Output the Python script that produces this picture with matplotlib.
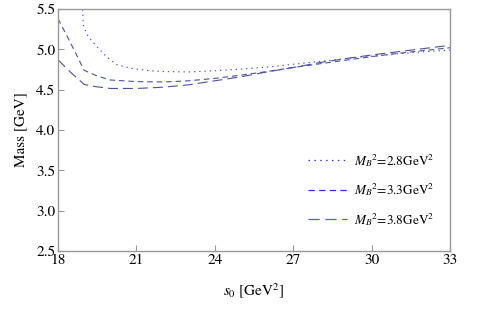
import matplotlib
matplotlib.use("Agg")
import matplotlib.pyplot as plt
from matplotlib.lines import Line2D

plt.rcParams['font.family'] = ['STIXGeneral', 'DejaVu Serif']
plt.rcParams['mathtext.fontset'] = 'stix'

# M_B^2 = 2.8 GeV^2 (dotted)
s0_a = [18.9, 18.97, 19.15, 19.5, 19.85, 20.25, 20.8, 21.5, 22, 23, 24, 25, 26, 27, 28, 29, 30, 31, 32, 33]
m_a = [5.75, 5.30, 5.16, 5.03, 4.91, 4.81, 4.765, 4.735, 4.725, 4.72, 4.735, 4.755, 4.78, 4.815, 4.85, 4.885, 4.915, 4.945, 4.97, 4.99]

# M_B^2 = 3.3 GeV^2 (dashed)
s0_b = [18, 18.4, 18.65, 19, 19.5, 20, 21, 22, 23, 24, 25, 26, 27, 28, 29, 30, 31, 32, 33]
m_b = [5.38, 5.13, 4.97, 4.74, 4.67, 4.62, 4.60, 4.595, 4.61, 4.64, 4.68, 4.725, 4.775, 4.82, 4.865, 4.91, 4.95, 4.985, 5.02]

# M_B^2 = 3.8 GeV^2 (long dashed)
s0_c = [18, 18.5, 19, 19.5, 20, 21, 22, 23, 24, 25, 26, 27, 28, 29, 30, 31, 32, 33]
m_c = [4.87, 4.71, 4.565, 4.535, 4.515, 4.515, 4.53, 4.56, 4.61, 4.66, 4.72, 4.775, 4.835, 4.885, 4.93, 4.97, 5.01, 5.05]

labels = [r'$M_B{}^2$=2.8GeV$^2$', r'$M_B{}^2$=3.3GeV$^2$', r'$M_B{}^2$=3.8GeV$^2$']

xticks = [18, 21, 24, 27, 30, 33]
yticks = [2.5, 3.0, 3.5, 4.0, 4.5, 5.0, 5.5]

curve_col = '#5050a8'
frame_col = '#999999'

fig = plt.figure(figsize=(5, 3.11), dpi=100)
ax = fig.add_axes([0.116, 0.193, 0.784, 0.778])

ax.plot(s0_a, m_a, color=curve_col, lw=0.8, linestyle=(0, (1.2, 3.5)))
ax.plot(s0_b, m_b, color=curve_col, lw=0.8, linestyle=(0, (5, 3.5)))
ax.plot(s0_c, m_c, color=curve_col, lw=0.8, linestyle=(0, (9, 4.5)))

ax.set_xlim(18, 33)
ax.set_ylim(2.5, 5.5)
ax.set_xticks(xticks)
ax.set_yticks(yticks)
ax.set_yticklabels(['%.1f' % v for v in yticks])
ax.tick_params(direction='in', length=4, width=0.8, color=frame_col, labelsize=11, pad=2)
for sp in ax.spines.values():
    sp.set_color(frame_col)
    sp.set_linewidth(1.0)

ax.set_xlabel(r'$s_0$ [GeV$^2$]', fontsize=11, labelpad=10)
ax.set_ylabel('Mass [GeV]', fontsize=11, labelpad=6)

handles = [
    Line2D([], [], color='#3535e0', lw=0.9, linestyle=(0, (1.2, 3.5))),
    Line2D([], [], color='#2a2aff', lw=0.9, linestyle=(0, (5, 3.5))),
    Line2D([], [], color='#5a5af0', lw=0.9, linestyle=(0, (9, 4.5))),
]
fig.legend(handles, labels, loc='upper left', bbox_to_anchor=(0.592, 0.55),
           frameon=False, fontsize=9.5, handlelength=3.0, labelspacing=0.95,
           handletextpad=0.5)

fig.savefig('out.png', dpi=100)
